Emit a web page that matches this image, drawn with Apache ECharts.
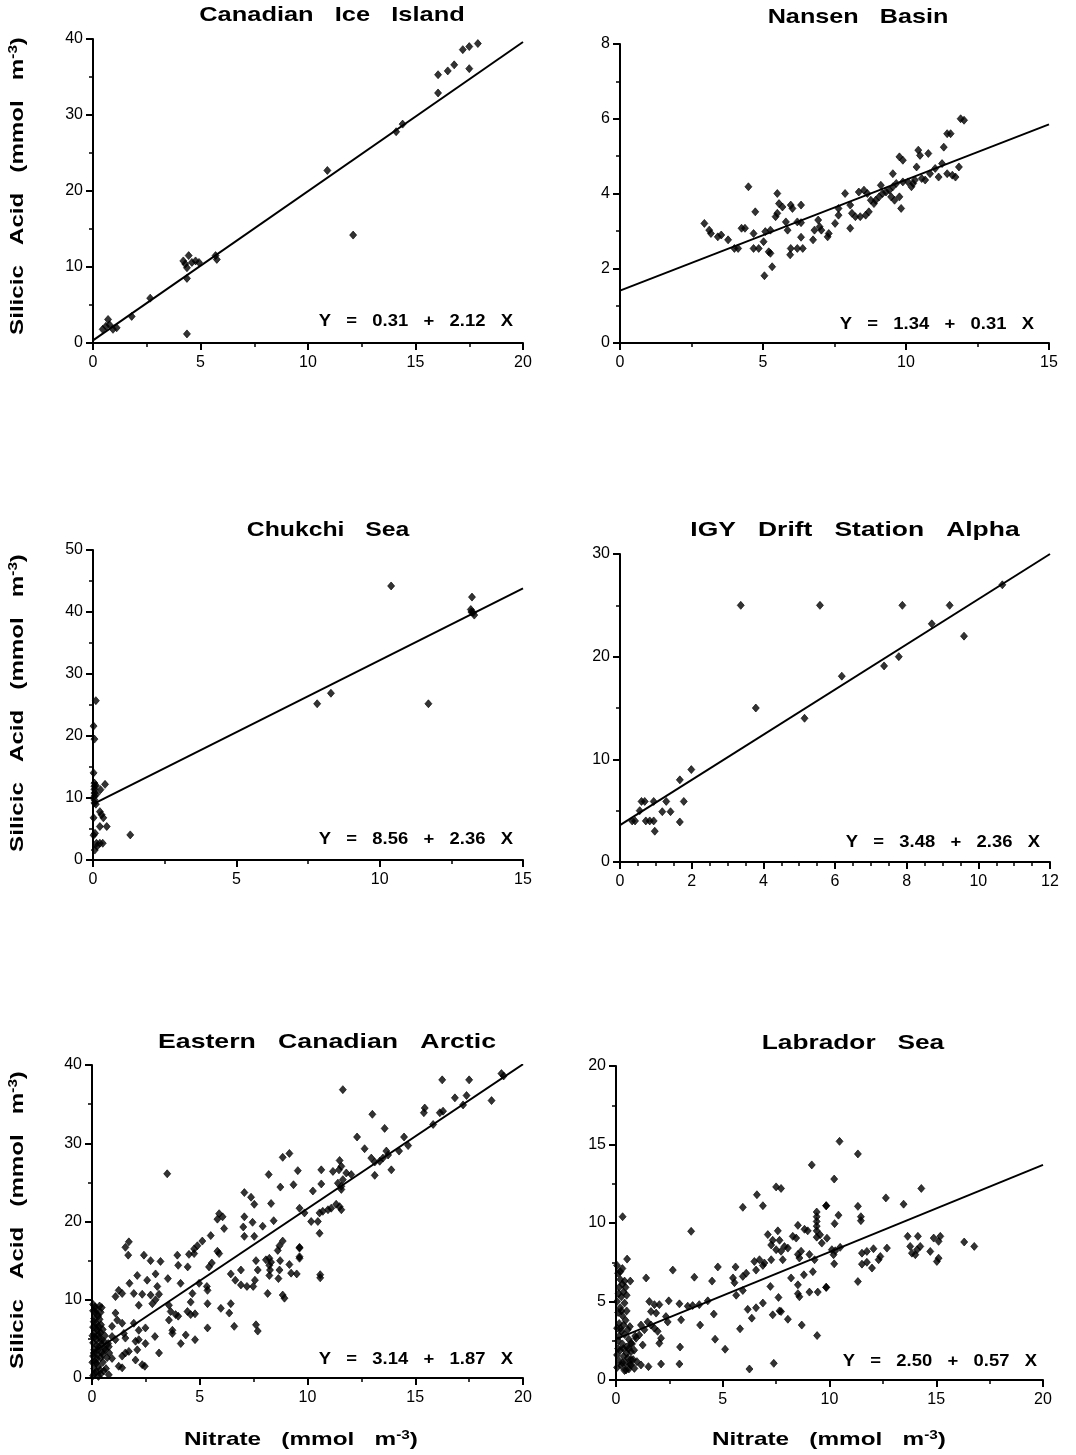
<!DOCTYPE html>
<html>
<head>
<meta charset="utf-8">
<script src="https://cdn.jsdelivr.net/npm/echarts@6/dist/echarts.min.js"></script>
<style>
  html, body { margin: 0; background: #fff; }
  #chart { width: 1076px; height: 1455px; }
</style>
</head>
<body>
<div id="chart"></div>
<script>
// panel titles and regression labels
const panelTitles = ['Canadian   Ice   Island', 'Nansen   Basin', 'Chukchi   Sea',
  'IGY   Drift   Station   Alpha', 'Eastern   Canadian   Arctic', 'Labrador   Sea'];
const equations = ['Y   =   0.31   +   2.12   X', 'Y   =   1.34   +   0.31   X', 'Y   =   8.56   +   2.36   X',
  'Y   =   3.48   +   2.36   X', 'Y   =   3.14   +   1.87   X', 'Y   =   2.50   +   0.57   X'];

// axis ranges [max, interval] for nitrate (x) and silicic acid (y)
const xMax = [20, 15, 15, 12, 20, 20];
const xStep = [5, 5, 5, 2, 5, 5];
const yMax = [40, 8, 50, 30, 40, 20];
const yStep = [10, 2, 10, 10, 10, 5];

// drawn regression lines, endpoints
const fitCanadianIce = [[0, 0.35], [20, 39.6]];
const fitNansen = [[0, 1.4], [15, 5.85]];
const fitChukchi = [[0, 9.0], [15, 43.8]];
const fitIgy = [[0, 3.6], [12, 30]];
const fitEastern = [[0, 3.2], [20, 40.1]];
const fitLabrador = [[0, 2.6], [20, 13.7]];

// samples: [nitrate, silicic acid]
const canadianIce = [
  [0.45, 1.8], [0.6, 2.2], [0.7, 3.1], [0.77, 2.4], [0.93, 1.8], [1.1, 2.0], [1.8, 3.5], [2.66, 5.9],
  [4.2, 10.8], [4.29, 10.4], [4.37, 9.9], [4.37, 8.5], [4.45, 11.5], [4.6, 10.6], [4.77, 10.8],
  [4.93, 10.6], [4.37, 1.2], [5.7, 11.5], [5.76, 11.0], [10.9, 22.7], [12.1, 14.2], [14.1, 27.8],
  [14.4, 28.8], [16.05, 32.9], [16.05, 35.3], [16.5, 35.8], [16.8, 36.6], [17.2, 38.6], [17.5, 39.0],
  [17.9, 39.4], [17.5, 36.1]
];

const nansen = [
  [2.95, 3.2], [3.12, 3.02], [3.18, 2.93], [3.42, 2.84], [3.54, 2.89], [3.78, 2.76], [4.0, 2.53],
  [4.13, 2.53], [4.25, 3.07], [4.37, 3.07], [4.49, 4.18], [4.73, 3.51], [4.67, 2.53], [4.85, 2.53],
  [4.67, 2.93], [5.02, 2.71], [5.08, 2.98], [5.26, 3.02], [5.26, 2.4], [5.32, 2.04], [5.05, 1.8],
  [5.2, 2.44], [5.5, 4.0], [5.5, 3.47], [5.68, 3.64], [5.56, 3.73], [5.44, 3.38], [5.8, 3.24],
  [5.86, 3.02], [5.97, 3.69], [6.03, 3.6], [5.95, 2.36], [5.97, 2.53], [6.2, 2.53], [6.39, 2.53],
  [6.33, 3.69], [6.2, 3.24], [6.33, 3.22], [6.33, 2.83], [6.75, 2.76], [6.8, 3.02], [6.93, 3.29],
  [6.98, 3.11], [7.04, 3.02], [7.26, 2.84], [7.3, 2.93], [7.52, 3.2], [7.64, 3.6], [7.64, 3.42],
  [7.87, 4.0], [8.05, 3.69], [8.05, 3.07], [8.11, 3.47], [8.23, 3.38], [8.4, 3.38], [8.59, 3.42],
  [8.7, 3.51], [8.35, 4.04], [8.53, 4.09], [8.65, 4.0], [8.77, 3.82], [8.94, 3.82], [9.06, 3.91],
  [9.18, 4.0], [9.3, 4.04], [9.42, 4.09], [9.54, 4.18], [9.6, 3.82], [9.77, 3.91], [9.83, 3.6],
  [9.48, 3.91], [9.66, 4.27], [9.54, 4.53], [9.77, 4.98], [9.89, 4.89], [9.89, 4.31], [10.07, 4.31],
  [10.25, 4.27], [10.31, 4.36], [10.43, 5.16], [10.49, 5.02], [10.37, 4.71], [10.55, 4.4],
  [10.67, 4.36], [10.78, 5.07], [10.84, 4.53], [11.02, 4.67], [11.14, 4.44], [11.32, 5.24],
  [11.44, 5.6], [11.56, 5.6], [11.26, 4.8], [11.44, 4.53], [11.62, 4.49], [11.73, 4.44], [11.85, 4.71],
  [11.91, 6.0], [12.03, 5.96], [10.19, 4.18], [9.12, 4.22], [8.88, 3.73]
];

const chukchi = [
  [10.4, 44.2], [13.22, 42.4], [13.18, 40.4], [13.26, 39.9], [13.3, 39.5], [13.2, 40.0], [8.3, 26.9],
  [7.82, 25.2], [11.7, 25.2], [1.3, 4.05], [0.1, 25.7], [0.02, 21.6], [0.05, 19.5], [0.02, 14.05],
  [0.05, 12.4], [0.05, 11.9], [0.05, 11.4], [0.05, 10.8], [0.05, 10.3], [0.05, 9.7], [0.05, 9.2],
  [0.02, 6.8], [0.07, 4.3], [0.12, 2.7], [0.06, 1.6], [0.26, 11.35], [0.42, 12.2], [0.24, 7.8],
  [0.3, 7.3], [0.36, 6.8], [0.24, 5.4], [0.48, 5.4], [0.24, 2.7], [0.34, 2.7], [0.14, 2.2],
  [0.1, 12.0], [0.12, 10.6], [0.1, 9.0], [0.02, 4.0]
];

const igy = [
  [3.37, 25], [5.58, 25], [7.88, 25], [9.2, 25], [10.67, 27], [8.7, 23.2], [9.6, 22], [7.78, 20],
  [7.37, 19.1], [6.19, 18.1], [3.79, 15], [5.15, 14], [1.99, 9], [1.67, 8], [1.78, 5.9], [1.67, 3.9],
  [1.41, 4.9], [1.18, 4.9], [1.29, 5.9], [0.94, 5.9], [0.6, 5.9], [0.69, 5.9], [0.94, 4], [0.72, 4],
  [0.83, 4], [0.42, 4], [0.34, 4], [0.97, 3.0], [0.55, 5]
];

const eastern = [
  [0.05, 0.3], [0.1, 1.2], [0.2, 0.8], [0.3, 1.5], [0.15, 2.1], [0.05, 2.8], [0.25, 3.0], [0.4, 2.6],
  [0.1, 3.6], [0.3, 4.0], [0.45, 3.3], [0.05, 4.5], [0.2, 4.9], [0.35, 5.2], [0.1, 5.7], [0.25, 6.1],
  [0.4, 5.8], [0.05, 6.5], [0.2, 7.0], [0.3, 6.6], [0.1, 7.6], [0.25, 8.1], [0.05, 8.6], [0.15, 9.1],
  [0.35, 9.2], [0.45, 9.0], [0.5, 6.2], [0.55, 4.7], [0.6, 3.8], [0.5, 2.0], [0.65, 1.2], [0.4, 0.5],
  [0.7, 2.6], [0.8, 3.2], [0.75, 4.4], [0.3, 0.2], [0.55, 0.9], [0.2, 1.9], [0.45, 4.3], [0.35, 7.5],
  [0.15, 8.4], [0.05, 9.4], [0.12, 0.6], [0.22, 2.5], [0.38, 1.0], [0.08, 3.2], [0.28, 3.6],
  [0.42, 4.8], [0.12, 5.2], [0.3, 5.6], [0.18, 6.4], [0.42, 6.8], [0.08, 7.2], [0.28, 7.9],
  [0.18, 8.8], [0.4, 8.4], [0.22, 4.2], [0.5, 3.0], [0.6, 5.4], [0.02, 2.0], [0.02, 5.4],
  [3.49, 26.1], [8.85, 28.2], [9.16, 28.7], [8.2, 26.0], [9.55, 26.5], [8.74, 24.4], [9.35, 24.7],
  [7.07, 23.7], [7.38, 23.1], [7.53, 22.2], [8.31, 22.3], [5.9, 21.0], [6.06, 20.6], [5.82, 20.3],
  [7.07, 20.6], [7.45, 19.9], [7.92, 19.4], [8.43, 20.1], [6.13, 19.1], [5.51, 18.2], [5.12, 17.5],
  [4.89, 16.9], [4.74, 16.5], [4.5, 15.8], [5.82, 16.2], [5.9, 15.9], [7.07, 18.1], [7.53, 18.1],
  [7.02, 19.3], [8.85, 17.5], [8.7, 16.9], [8.62, 16.3], [8.23, 15.3], [8.31, 14.8], [9.63, 15.5],
  [9.63, 16.7], [9.16, 14.5], [9.24, 13.4], [8.73, 15.0], [8.7, 13.8], [8.65, 12.7], [9.5, 13.3],
  [8.07, 15.1], [8.23, 14.4], [8.26, 13.8], [8.23, 13.1], [7.61, 15.0], [7.69, 13.8], [7.56, 12.5],
  [8.15, 10.8], [8.85, 10.6], [8.93, 10.2], [7.19, 11.7], [7.48, 11.7], [6.91, 13.8], [6.44, 13.3],
  [6.91, 11.9], [6.65, 12.5], [1.55, 16.7], [1.71, 17.4], [1.68, 15.7], [2.41, 15.7], [2.72, 15.0],
  [3.18, 14.9], [3.96, 15.7], [4.0, 14.4], [4.44, 14.2], [4.74, 15.9], [3.52, 12.7], [2.1, 13.1],
  [2.95, 13.3], [2.56, 12.5], [3.03, 11.7], [1.74, 12.1], [1.24, 11.2], [1.4, 10.8], [1.09, 10.4],
  [1.94, 10.8], [2.33, 10.7], [2.72, 10.6], [3.11, 10.7], [2.95, 10.0], [2.17, 9.3], [2.8, 9.5],
  [3.57, 9.3], [3.65, 8.5], [3.88, 8.1], [4.0, 7.9], [4.43, 8.5], [4.58, 8.1], [4.78, 8.2], [4.58, 9.7],
  [4.11, 12.1], [5.33, 11.7], [5.36, 11.2], [4.66, 10.8], [4.97, 12.1], [5.43, 14.2], [5.56, 14.7],
  [5.36, 9.5], [5.98, 8.9], [6.44, 9.5], [6.37, 8.3], [6.6, 6.6], [3.73, 6.1], [3.73, 5.7], [4.35, 5.5],
  [4.12, 4.4], [4.78, 4.9], [5.36, 6.4], [7.61, 6.8], [7.69, 6.0], [3.57, 7.4], [1.09, 8.3], [1.17, 7.4],
  [0.93, 6.6], [1.48, 5.7], [1.55, 5.1], [1.94, 7.0], [2.17, 6.1], [2.48, 6.4], [2.48, 4.4], [2.02, 4.7],
  [2.17, 4.9], [2.1, 3.6], [1.71, 3.4], [2.92, 5.3], [3.11, 3.2], [2.33, 1.7], [2.45, 1.5], [2.02, 2.3],
  [1.4, 1.3], [1.24, 1.5], [1.55, 3.2], [1.4, 2.8], [0.78, 0.4], [0.62, 3.6], [0.78, 4.0], [0.93, 2.5],
  [1.09, 4.9], [0.93, 5.3], [1.4, 7.0],
  [11.64, 36.85], [16.25, 38.1], [17.5, 38.1], [19.0, 38.9], [19.1, 38.6], [18.54, 35.45], [16.84, 35.8],
  [17.22, 34.9], [17.38, 36.1], [15.44, 34.5], [15.4, 33.9], [16.29, 34.1], [16.14, 33.9], [15.83, 32.4],
  [13.01, 33.7], [13.58, 31.9], [12.3, 30.8], [12.65, 29.3], [14.48, 30.8], [14.25, 29.0], [14.67, 29.7],
  [13.66, 29.0], [13.74, 28.5], [13.5, 28.1], [12.96, 28.1], [13.12, 27.6], [13.35, 27.7], [13.89, 26.6],
  [13.12, 25.9], [11.49, 27.8], [11.57, 27.05], [11.46, 26.6], [10.64, 26.6], [11.18, 26.4], [10.64, 24.8],
  [11.8, 26.2], [12.03, 26.0], [11.64, 25.35], [11.41, 24.9], [11.57, 24.5], [11.57, 24.1], [10.25, 23.9],
  [9.63, 21.7], [9.86, 21.1], [10.17, 20.0], [10.48, 20.0], [10.71, 21.3], [10.95, 21.5], [10.56, 21.1],
  [11.1, 21.7], [11.33, 22.2], [11.49, 21.9], [11.57, 21.5], [10.56, 18.5], [10.59, 13.2], [10.59, 12.8],
  [9.63, 16.6], [9.63, 15.3]
];

const labrador = [
  [0.05, 7.3], [0.1, 6.8], [0.2, 6.4], [0.3, 6.1], [0.15, 5.9], [0.35, 5.6], [0.25, 5.3], [0.05, 5.0],
  [0.4, 4.9], [0.2, 4.6], [0.1, 4.3], [0.3, 4.1], [0.45, 3.8], [0.15, 3.6], [0.05, 3.3], [0.25, 3.1],
  [0.4, 2.9], [0.55, 3.2], [0.6, 2.6], [0.1, 2.5], [0.3, 2.3], [0.5, 2.1], [0.2, 1.9], [0.7, 1.8],
  [0.05, 1.6], [0.35, 1.5], [0.55, 1.4], [0.15, 1.2], [0.45, 1.1], [0.65, 1.0], [0.25, 0.9], [0.8, 1.3],
  [0.05, 0.8], [0.4, 0.6], [0.6, 0.7], [0.75, 2.3], [0.85, 1.9], [0.9, 2.8], [0.2, 6.9], [0.3, 7.1],
  [0.1, 2.0], [0.35, 3.5], [0.5, 4.4], [0.65, 3.4], [0.5, 5.4], [0.4, 6.3], [0.31, 10.4], [0.52, 7.7],
  [0.67, 6.3], [0.15, 2.8], [0.35, 2.0], [0.5, 1.7], [0.25, 4.4], [0.45, 5.9], [0.12, 5.5],
  [0.6, 2.0], [0.7, 1.3], [0.3, 1.1], [0.2, 3.3],
  [9.17, 13.7], [7.5, 12.3], [7.73, 12.2], [6.6, 11.8], [6.88, 11.1], [5.94, 11.0], [9.84, 11.1],
  [9.4, 10.7], [9.4, 10.4], [9.4, 10.1], [9.4, 9.8], [9.4, 9.5], [9.4, 9.1], [3.52, 9.47], [1.41, 6.5],
  [2.66, 7.0], [3.67, 6.55], [4.5, 6.3], [4.77, 7.2], [5.6, 7.2], [5.48, 6.5], [5.55, 6.2], [5.94, 6.6],
  [6.1, 6.8], [6.48, 7.55], [6.72, 7.66], [6.95, 7.45], [6.56, 7.0], [6.88, 7.3], [7.11, 9.26], [7.27, 8.6],
  [7.34, 8.9], [7.58, 9.5], [7.66, 8.9], [7.5, 8.3], [7.73, 8.2], [7.89, 8.5], [7.27, 7.66], [7.81, 7.66],
  [8.05, 8.4], [8.2, 6.5], [8.28, 9.15], [8.44, 9.04], [8.52, 9.85], [8.83, 9.6], [8.98, 9.5], [8.52, 8.0],
  [8.59, 7.77], [8.67, 8.2], [8.8, 6.7], [8.52, 6.06], [8.52, 5.5], [8.59, 5.3], [9.06, 5.6], [9.45, 5.6],
  [9.84, 5.9], [9.22, 6.9], [9.3, 7.66], [9.06, 8.0], [7.23, 5.96], [7.61, 5.26], [7.66, 4.4], [7.73, 4.36],
  [8.05, 3.87], [6.88, 4.9], [6.56, 4.6], [6.36, 3.94], [5.81, 3.26], [6.17, 4.5], [7.34, 4.15], [8.7, 3.5],
  [9.42, 2.83], [4.64, 2.6], [5.11, 1.96], [6.25, 0.7], [7.39, 1.06], [2.97, 1.02], [3.0, 2.1], [2.11, 1.02],
  [1.52, 0.85], [3.94, 3.5], [4.58, 4.2], [5.63, 5.4], [5.94, 5.7], [2.97, 4.85], [3.36, 4.7], [3.59, 4.74],
  [3.9, 4.8], [4.3, 5.04], [2.47, 5.04], [3.05, 3.83], [2.34, 4.04], [2.42, 3.7], [1.56, 5.0], [1.8, 4.8],
  [2.03, 4.8], [1.64, 4.36], [1.88, 4.26], [1.48, 3.7], [1.64, 3.5], [1.8, 3.3], [1.95, 3.1], [2.11, 2.66],
  [2.03, 2.34], [1.17, 3.5], [1.33, 3.2], [1.09, 2.87], [0.94, 2.66], [0.7, 2.34], [1.25, 2.23], [0.98, 1.17],
  [1.17, 0.96], [0.7, 0.96], [0.86, 0.74], [0.47, 0.64],
  [10.47, 15.2], [11.33, 14.4], [10.22, 12.8], [14.3, 12.2], [12.64, 11.6], [13.47, 11.2], [11.33, 11.06],
  [9.85, 11.1], [10.42, 10.5], [10.24, 9.96], [11.47, 10.4], [11.47, 10.15], [9.56, 9.25], [9.64, 8.72],
  [9.88, 9.03], [10.11, 8.3], [10.27, 8.23], [10.5, 8.45], [10.19, 7.98], [10.22, 7.4], [9.85, 5.9],
  [11.33, 6.27], [11.52, 8.08], [11.75, 8.19], [12.06, 8.36], [11.52, 7.38], [11.75, 7.5], [11.99, 7.13],
  [12.3, 7.66], [12.38, 7.87], [12.69, 8.4], [13.66, 9.15], [14.14, 9.15], [13.78, 8.51], [13.86, 8.08],
  [14.1, 8.3], [14.25, 8.51], [14.02, 7.98], [14.72, 8.19], [14.88, 9.04], [15.19, 9.15], [15.11, 8.83],
  [15.03, 7.55], [15.11, 7.76], [16.31, 8.79], [16.78, 8.51]
];

const samples = [canadianIce, nansen, chukchi, igy, eastern, labrador];
const fits = [fitCanadianIce, fitNansen, fitChukchi, fitIgy, fitEastern, fitLabrador];
const xMinorSplit = [2, 2, 2, 4, 2, 2];

// layout in pixels
const FONT = '"Liberation Sans", Arial, sans-serif';
const grids = [
  { left: 93, top: 39, width: 430, height: 304 },
  { left: 620, top: 44, width: 429, height: 299 },
  { left: 93, top: 550, width: 430, height: 310 },
  { left: 620, top: 554, width: 430, height: 308 },
  { left: 92, top: 1065, width: 431, height: 313 },
  { left: 616, top: 1066, width: 427, height: 314 }
];
const titlePos = [[332, 15], [858, 17], [328, 530], [855, 530], [327, 1042], [853, 1043]];
const titleStretch = [1.21, 1.2, 1.18, 1.26, 1.27, 1.25];
const eqPos = [[513, 322], [1034, 325], [513, 840], [1040, 843], [513, 1360], [1037, 1362]];

const chart = echarts.init(document.getElementById('chart'), null, { renderer: 'canvas' });

function axis(i, max, interval, minorSplit, isX) {
  return {
    type: 'value', gridIndex: i, min: 0, max: max, interval: interval,
    axisLine: { onZero: false, lineStyle: { color: '#000', width: 2 } },
    axisTick: { length: 7, lineStyle: { color: '#000', width: 2 } },
    minorTick: { show: true, splitNumber: minorSplit, length: 4, lineStyle: { color: '#000', width: 1.5 } },
    splitLine: { show: false },
    axisLabel: { color: '#000', fontSize: 16, fontFamily: FONT, margin: isX ? 12 : 10 }
  };
}

const series = [];
samples.forEach((pts, i) => {
  series.push({
    type: 'scatter', xAxisIndex: i, yAxisIndex: i, data: pts,
    symbol: 'diamond', symbolSize: [7, 8],
    itemStyle: { color: '#000', borderColor: '#000', borderWidth: 0.8 }, silent: true
  });
  series.push({
    type: 'line', xAxisIndex: i, yAxisIndex: i, data: fits[i],
    symbol: 'none', lineStyle: { color: '#000', width: 2 }, silent: true
  });
});

const graphics = [];
panelTitles.forEach((t, i) => {
  graphics.push({
    type: 'text', x: titlePos[i][0], y: titlePos[i][1], scaleX: titleStretch[i],
    style: { text: t, font: 'bold 21px ' + FONT, fill: '#000', textAlign: 'center', textVerticalAlign: 'middle' }
  });
  graphics.push({
    type: 'text', x: eqPos[i][0], y: eqPos[i][1], scaleX: 1.15,
    style: { text: equations[i], font: 'bold 16px ' + FONT, fill: '#000', textAlign: 'right', textVerticalAlign: 'middle' }
  });
});

const unitRich = {
  a: { font: 'bold 19px ' + FONT, fill: '#000' },
  s: { font: 'bold 12px ' + FONT, fill: '#000', verticalAlign: 'top', padding: [0, 0, 8, 0] }
};
[186, 703, 1220].forEach(cy => {
  graphics.push({
    type: 'text', x: 18, y: cy, rotation: Math.PI / 2, scaleX: 1.27,
    style: {
      text: '{a|Silicic   Acid   (mmol   m}{s|-3}{a|)}', rich: unitRich,
      textAlign: 'center', textVerticalAlign: 'middle'
    }
  });
});
[301, 829].forEach(cx => {
  graphics.push({
    type: 'text', x: cx, y: 1440, scaleX: 1.28,
    style: {
      text: '{a|Nitrate   (mmol   m}{s|-3}{a|)}', rich: unitRich,
      textAlign: 'center', textVerticalAlign: 'middle'
    }
  });
});

chart.setOption({
  backgroundColor: '#fff',
  animation: false,
  grid: grids,
  xAxis: grids.map((g, i) => axis(i, xMax[i], xStep[i], xMinorSplit[i], true)),
  yAxis: grids.map((g, i) => axis(i, yMax[i], yStep[i], 2, false)),
  series: series,
  graphic: graphics
});
</script>
</body>
</html>
